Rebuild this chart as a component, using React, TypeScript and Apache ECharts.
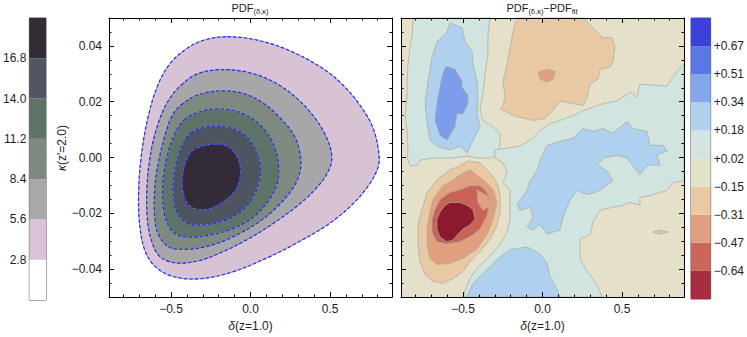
import React, { useEffect, useRef } from "react";
import * as echarts from "echarts";

const FONT = "'Liberation Sans', Arial, Helvetica, sans-serif";
const TXT = "#1e1e1e";

// axis ranges
const X_MIN = -0.89;
const X_MAX = 0.89;
const Y_MIN = -0.05;
const Y_MAX = 0.05;

// tick labels
const xTickValues = [-0.5, 0, 0.5];
const xTickLabels = ["−0.5", "0.0", "0.5"];
const yTickValues = [-0.04, -0.02, 0, 0.02, 0.04];
const yTickLabels = ["−0.04", "−0.02", "0.00", "0.02", "0.04"];

// colour bars
const pdfLevelLabels = ["2.8", "5.6", "8.4", "11.2", "14.0", "16.8"];
const pdfBandColors = ["#ffffff", "#d8c4d6", "#a8a8a8", "#7e8a80", "#5e7367", "#50555f", "#332d38"];
const resLevelLabels = ["−0.64", "−0.47", "−0.31", "−0.15", "+0.02", "+0.18", "+0.34", "+0.51", "+0.67"];
const resBandColors = ["#a62e3e", "#cb665b", "#e09f7f", "#e9c9a3", "#e4e1c9", "#d2e5e0", "#b0d1ee", "#82a7ea", "#5a78e3", "#3b40d8"];

// ---------- left panel: PDF(δ,κ) iso-contours [δ, κ] ----------
const contour28 = [
  [-0.146, 0.0433], [0.042, 0.0421], [0.25, 0.0382], [0.458, 0.0318], [0.583, 0.0259], [0.688, 0.0188],
  [0.771, 0.0106], [0.808, 0.0012], [0.802, -0.0035], [0.75, -0.0094], [0.646, -0.0165], [0.5, -0.0235],
  [0.292, -0.0306], [0.083, -0.0365], [-0.125, -0.0412], [-0.333, -0.0435], [-0.5, -0.0424], [-0.604, -0.0388],
  [-0.667, -0.0329], [-0.698, -0.0235], [-0.704, -0.0129], [-0.688, 0], [-0.646, 0.0141], [-0.583, 0.0259],
  [-0.5, 0.0341], [-0.375, 0.04], [-0.271, 0.0424],
];
const contour56 = [
  [-0.4375, 0.0259], [-0.333, 0.03], [-0.1875, 0.0315], [-0.021, 0.0306], [0.146, 0.0271], [0.292, 0.0212],
  [0.406, 0.0141], [0.479, 0.0071], [0.51, 0.0012], [0.5, -0.0035], [0.4375, -0.0094], [0.3125, -0.0165],
  [0.146, -0.0235], [-0.021, -0.0294], [-0.1875, -0.0341], [-0.333, -0.0371], [-0.479, -0.0377], [-0.573, -0.0353],
  [-0.625, -0.0294], [-0.65, -0.0212], [-0.65, -0.0094], [-0.625, 0.0024], [-0.583, 0.0118], [-0.521, 0.02],
];
const contour84 = [
  [-0.4375, 0.0188], [-0.333, 0.0224], [-0.1875, 0.0239], [-0.042, 0.0229], [0.083, 0.0194], [0.1875, 0.0141],
  [0.271, 0.0082], [0.3125, 0.0012], [0.3125, -0.0047], [0.271, -0.0106], [0.167, -0.0177], [0.042, -0.0235],
  [-0.125, -0.0288], [-0.271, -0.0318], [-0.417, -0.0329], [-0.521, -0.0318], [-0.583, -0.0271], [-0.604, -0.02],
  [-0.6, -0.0094], [-0.573, 0], [-0.531, 0.0094], [-0.49, 0.0153],
];
const contour112 = [
  [-0.417, 0.0135], [-0.3125, 0.0165], [-0.198, 0.0174], [-0.083, 0.0165], [0.021, 0.0135], [0.104, 0.0088],
  [0.156, 0.0029], [0.177, -0.0035], [0.167, -0.0094], [0.115, -0.0153], [0.021, -0.0212], [-0.104, -0.0253],
  [-0.25, -0.0277], [-0.385, -0.0285], [-0.479, -0.0271], [-0.531, -0.0224], [-0.552, -0.0153], [-0.548, -0.0071],
  [-0.521, 0.0012], [-0.479, 0.0082],
];
const contour140 = [
  [-0.375, 0.0088], [-0.292, 0.0108], [-0.208, 0.0112], [-0.115, 0.0104], [-0.031, 0.0077], [0.031, 0.0029],
  [0.0625, -0.0029], [0.052, -0.0088], [0.01, -0.0147], [-0.0625, -0.0194], [-0.167, -0.0226], [-0.292, -0.0241],
  [-0.396, -0.0235], [-0.458, -0.02], [-0.485, -0.0141], [-0.483, -0.0071], [-0.458, 0], [-0.427, 0.0047],
];
const contour168 = [
  [-0.354, 0.0029], [-0.25, 0.0047], [-0.146, 0.0041], [-0.083, 0], [-0.0625, -0.0047], [-0.083, -0.0106],
  [-0.146, -0.0147], [-0.25, -0.0182], [-0.333, -0.0186], [-0.396, -0.0165], [-0.427, -0.0118], [-0.427, -0.0059],
  [-0.396, 0],
];
const pdfContours = [contour28, contour56, contour84, contour112, contour140, contour168];
const pdfFills = ["#d7c3d4", "#a7a6a8", "#7e8a80", "#5f7468", "#4f5560", "#332c38"];

// ---------- right panel: residual regions [δ, κ] ----------
const resCyanLeft = [
  [-0.814, 0.05], [-0.33, 0.05], [-0.343, 0.044], [-0.343, 0.0369], [-0.362, 0.0299], [-0.374, 0.0239],
  [-0.393, 0.0168], [-0.374, 0.0133], [-0.311, 0.0111], [-0.267, 0.0087], [-0.267, 0.0044], [-0.286, 0.0016],
  [-0.33, -0.0002], [-0.393, -0.0002], [-0.475, 0.0005], [-0.582, -0.0002], [-0.689, -0.0002], [-0.77, -0.0009],
  [-0.79, -0.003], [-0.833, -0.0027], [-0.852, -0.0002], [-0.846, 0.0041], [-0.852, 0.0097], [-0.865, 0.0157],
  [-0.852, 0.0217], [-0.852, 0.0274], [-0.846, 0.0334], [-0.833, 0.0394], [-0.821, 0.044],
];
const resCyanBand = [
  [-0.299, 0.0027], [-0.142, 0.0041], [-0.06, 0.0069], [-0.016, 0.0097], [0.047, 0.0122], [0.11, 0.0133],
  [0.217, 0.0157], [0.255, 0.0168], [0.381, 0.0193], [0.469, 0.0203], [0.55, 0.0235], [0.594, 0.0217],
  [0.613, 0.0263], [0.783, 0.0256], [0.846, 0.0309], [0.89, 0.0334], [0.89, -0.0083], [0.821, -0.009],
  [0.783, -0.0118], [0.676, -0.0136], [0.613, -0.0143], [0.613, -0.0171], [0.55, -0.0161], [0.506, -0.0171],
  [0.443, -0.0178], [0.362, -0.0189], [0.318, -0.0231], [0.299, -0.0277], [0.236, -0.0292], [0.236, -0.0362],
  [0.28, -0.0408], [0.343, -0.0454], [0.374, -0.05], [-0.5, -0.05], [-0.487, -0.0479], [-0.456, -0.0433],
  [-0.412, -0.0398], [-0.349, -0.0362], [-0.267, -0.0313], [-0.223, -0.0267], [-0.204, -0.0221], [-0.204, -0.0115],
  [-0.248, -0.009], [-0.223, -0.0055], [-0.248, -0.0019], [-0.299, -0.0002],
];
const resBlueLeft = [
  [-0.582, 0.0482], [-0.506, 0.0465], [-0.487, 0.0415], [-0.443, 0.038], [-0.437, 0.0334], [-0.412, 0.0274],
  [-0.406, 0.0217], [-0.412, 0.0157], [-0.393, 0.0111], [-0.437, 0.0062], [-0.475, 0.0016], [-0.519, 0.0041],
  [-0.582, 0.0027], [-0.664, 0.0041], [-0.708, 0.0062], [-0.726, 0.0122], [-0.739, 0.0193], [-0.72, 0.0274],
  [-0.695, 0.0359], [-0.664, 0.0415], [-0.601, 0.0447], [-0.588, 0.0475],
];
const resBlueCore = [
  [-0.601, 0.0327], [-0.55, 0.0316], [-0.506, 0.0274], [-0.506, 0.0253], [-0.469, 0.0221], [-0.469, 0.0193],
  [-0.5, 0.0157], [-0.538, 0.0157], [-0.55, 0.0111], [-0.601, 0.0062], [-0.645, 0.008], [-0.676, 0.0133],
  [-0.664, 0.0193], [-0.645, 0.0253], [-0.632, 0.0288], [-0.613, 0.0323],
];
const resBlueCentre = [
  [0.028, 0.0044], [-0.016, -0.0012], [-0.035, -0.0048], [-0.079, -0.0083], [-0.097, -0.0118], [-0.16, -0.0168],
  [-0.142, -0.0189], [-0.079, -0.0178], [-0.06, -0.0214], [-0.097, -0.0249], [-0.06, -0.026], [-0.016, -0.0239],
  [0.028, -0.0274], [0.11, -0.026], [0.129, -0.0214], [0.173, -0.0154], [0.217, -0.0118], [0.28, -0.0133],
  [0.362, -0.0118], [0.443, -0.0083], [0.406, -0.0048], [0.343, -0.0027], [0.381, -0.0002], [0.469, 0.0009],
  [0.531, -0.0002], [0.613, -0.0062], [0.657, -0.0027], [0.739, -0.0027], [0.72, 0.0009], [0.783, 0.0023],
  [0.758, 0.0044], [0.676, 0.0044], [0.657, 0.0094], [0.569, 0.0104], [0.531, 0.0129], [0.443, 0.0087],
  [0.381, 0.0104], [0.318, 0.0094], [0.255, 0.0104], [0.192, 0.0069], [0.11, 0.0058],
];
const resBlueBottom = [
  [-0.475, -0.05], [-0.437, -0.0451], [-0.349, -0.0401], [-0.267, -0.0355], [-0.204, -0.033], [-0.097, -0.032],
  [-0.016, -0.0345], [0.028, -0.038], [0.047, -0.0426], [0.091, -0.0472], [0.11, -0.05],
];
const resTanTop = [
  [-0.16, 0.05], [0.255, 0.05], [0.318, 0.0465], [0.381, 0.0429], [0.437, 0.0429], [0.456, 0.0394],
  [0.443, 0.0345], [0.425, 0.0323], [0.362, 0.0316], [0.349, 0.0281], [0.299, 0.0263], [0.28, 0.0217],
  [0.255, 0.0186], [0.11, 0.0203], [0.047, 0.0157], [0.016, 0.014], [-0.06, 0.0133], [-0.16, 0.0147],
  [-0.204, 0.0157], [-0.267, 0.0175], [-0.248, 0.0186], [-0.236, 0.0217], [-0.248, 0.0274], [-0.223, 0.0334],
  [-0.204, 0.0394], [-0.186, 0.0451],
];
const resSalmonTop = [
  [-0.028, 0.0306], [0.028, 0.0316], [0.079, 0.0309], [0.066, 0.0281], [0.028, 0.027], [-0.016, 0.0281],
];
const resTanRing = [
  [-0.469, -0.0012], [-0.393, -0.0019], [-0.33, -0.0055], [-0.286, -0.009], [-0.267, -0.0136], [-0.267, -0.0196],
  [-0.286, -0.0242], [-0.33, -0.0292], [-0.393, -0.0337], [-0.456, -0.0373], [-0.5, -0.0408], [-0.563, -0.0433],
  [-0.626, -0.0451], [-0.689, -0.0443], [-0.739, -0.0419], [-0.77, -0.0373], [-0.783, -0.0313], [-0.783, -0.0242],
  [-0.758, -0.0186], [-0.726, -0.0125], [-0.664, -0.008], [-0.582, -0.0044], [-0.519, -0.003],
];
const resSalmonRing = [
  [-0.456, -0.0044], [-0.374, -0.008], [-0.311, -0.0115], [-0.286, -0.0161], [-0.311, -0.0221], [-0.349, -0.0277],
  [-0.412, -0.0327], [-0.5, -0.0362], [-0.582, -0.038], [-0.664, -0.0383], [-0.708, -0.0362], [-0.726, -0.0313],
  [-0.726, -0.0256], [-0.708, -0.0196], [-0.689, -0.015], [-0.626, -0.0101], [-0.563, -0.008], [-0.5, -0.0055],
];
const resRedRing = [
  [-0.456, -0.0101], [-0.393, -0.0101], [-0.349, -0.0125], [-0.33, -0.0161], [-0.349, -0.0207], [-0.393, -0.0256],
  [-0.437, -0.0277], [-0.519, -0.0302], [-0.601, -0.0309], [-0.664, -0.0302], [-0.695, -0.0267], [-0.695, -0.0221],
  [-0.676, -0.0186], [-0.645, -0.015], [-0.582, -0.0125], [-0.519, -0.0115],
];
const resSalmonIsland = [
  [-0.412, -0.0115], [-0.349, -0.0136], [-0.318, -0.0171], [-0.374, -0.0189], [-0.406, -0.0161],
];
const resDarkCore = [
  [-0.582, -0.0161], [-0.519, -0.0161], [-0.475, -0.0171], [-0.437, -0.0186], [-0.425, -0.0221], [-0.456, -0.0242],
  [-0.5, -0.0256], [-0.531, -0.0274], [-0.563, -0.0295], [-0.601, -0.0302], [-0.645, -0.0284], [-0.664, -0.0256],
  [-0.664, -0.0221], [-0.645, -0.0196], [-0.613, -0.0171],
];
const resTanSpeck = [[0.695, -0.0267], [0.739, -0.026], [0.789, -0.0267], [0.739, -0.0274]];

const resRegions = [
  resCyanLeft, resCyanBand, resBlueLeft, resBlueCore, resBlueCentre, resBlueBottom, resTanTop, resSalmonTop,
  resTanRing, resSalmonRing, resRedRing, resSalmonIsland, resDarkCore, resTanSpeck,
];
const resFills = [
  "#d2e4df", "#d2e4df", "#afd0ee", "#7b9dec", "#afd0ee", "#afd0ee", "#e8c9a4", "#e0a080",
  "#e8c9a4", "#e0a080", "#c96358", "#e0a080", "#8b1a2c", "#e8c9a4",
];

const pick = (values: number[], labels: string[]) => (v: number) => {
  const i = values.findIndex((t) => Math.abs(t - v) < 1e-9);
  return i >= 0 ? labels[i] : "";
};
const barLabel = (labels: string[]) => (v: number) => {
  const i = Math.round(v);
  if (Math.abs(v - i) > 1e-9 || i < 1 || i > labels.length) return "";
  return labels[i - 1];
};

const labelStyle = { fontFamily: FONT, fontSize: 12, color: TXT };

function panelX(gridIndex: number, position: string, labels: boolean) {
  return {
    type: "value", gridIndex, position, min: X_MIN, max: X_MAX, splitNumber: 4, z: 10,
    axisLine: { show: true, onZero: false, lineStyle: { color: "#000", width: 1 } },
    axisTick: { show: true, inside: true, length: 5, lineStyle: { color: "#000", width: 1 } },
    minorTick: { show: true, splitNumber: 5, length: 2.5, lineStyle: { color: "#000", width: 1 } },
    splitLine: { show: false },
    axisLabel: { show: labels, margin: 6, ...labelStyle, formatter: pick(xTickValues, xTickLabels) },
    name: labels ? "{i|δ}(z=1.0)" : "",
    nameLocation: "middle", nameGap: 27,
    nameTextStyle: { ...labelStyle, verticalAlign: "middle", rich: { i: { ...labelStyle, fontStyle: "italic" } } },
  };
}
function panelY(gridIndex: number, position: string, labels: boolean) {
  return {
    type: "value", gridIndex, position, min: Y_MIN, max: Y_MAX, splitNumber: 5, z: 10,
    axisLine: { show: true, onZero: false, lineStyle: { color: "#000", width: 1 } },
    axisTick: { show: true, inside: true, length: 5, lineStyle: { color: "#000", width: 1 } },
    minorTick: { show: true, splitNumber: 4, length: 2.5, lineStyle: { color: "#000", width: 1 } },
    splitLine: { show: false },
    axisLabel: { show: labels, margin: 7, ...labelStyle, formatter: pick(yTickValues, yTickLabels) },
  };
}

function polySeries(xi: number, yi: number, polys: number[][][], fills: string[], stroke: string, smooth: number) {
  return {
    type: "custom", xAxisIndex: xi, yAxisIndex: yi, silent: true, z: 2,
    data: polys.map((p) => p[0]),
    renderItem: (params: any, api: any) => {
      const pts = polys[params.dataIndex].map((p) => api.coord(p));
      return {
        type: "polygon",
        shape: { points: pts, smooth },
        style: { fill: fills[params.dataIndex], stroke, lineWidth: 0.7 },
      };
    },
  };
}

function dashSeries(xi: number, yi: number, polys: number[][][]) {
  return {
    type: "custom", xAxisIndex: xi, yAxisIndex: yi, silent: true, z: 3,
    data: polys.map((p) => p[0]),
    renderItem: (params: any, api: any) => {
      const pts = polys[params.dataIndex].map((p) => api.coord(p));
      return {
        type: "polygon",
        shape: { points: pts, smooth: 0.35 },
        style: { fill: "none", stroke: "#1f2ff5", lineWidth: 1.2, lineDash: [3.5, 2] },
      };
    },
  };
}

function barSeries(xi: number, yi: number, colors: string[]) {
  return {
    type: "custom", xAxisIndex: xi, yAxisIndex: yi, silent: true,
    data: colors.map((_, i) => [0.5, i + 0.5]),
    renderItem: (params: any, api: any) => {
      const i = params.dataIndex;
      const a = api.coord([0, i]);
      const b = api.coord([1, i + 1]);
      return {
        type: "rect",
        shape: { x: a[0], y: b[1], width: b[0] - a[0], height: a[1] - b[1] },
        style: { fill: colors[i], stroke: "none" },
      };
    },
  };
}

function barY(gridIndex: number, position: string, n: number, labels: string[], margin: number) {
  return {
    type: "value", gridIndex, position, min: 0, max: n, interval: 1,
    axisLine: { show: false }, axisTick: { show: false }, splitLine: { show: false },
    axisLabel: { show: true, margin, ...labelStyle, formatter: barLabel(labels) },
  };
}
function barX(gridIndex: number) {
  return { type: "value", gridIndex, min: 0, max: 1, show: false };
}

export default function App() {
  const ref = useRef<HTMLDivElement>(null);
  useEffect(() => {
    if (!ref.current) return;
    const chart = echarts.init(ref.current, undefined, { renderer: "svg" });
    const subRich = {
      s: { fontFamily: FONT, fontSize: 7.5, lineHeight: 8, verticalAlign: "bottom", color: TXT },
    };
    chart.setOption({
      animation: false,
      backgroundColor: "#ffffff",
      title: [
        {
          text: "PDF{s|(δ,κ)}", left: 250, top: 1, textAlign: "center", padding: 0,
          textStyle: { fontFamily: FONT, fontSize: 11, fontWeight: "normal", color: TXT, lineHeight: 14, rich: subRich },
        },
        {
          text: "PDF{s|(δ,κ)}−PDF{s|fit}", left: 542, top: 1, textAlign: "center", padding: 0,
          textStyle: { fontFamily: FONT, fontSize: 11, fontWeight: "normal", color: TXT, lineHeight: 14, rich: subRich },
        },
      ],
      grid: [
        { left: 109, top: 18, width: 283, height: 283, containLabel: false },
        { left: 401, top: 18, width: 283, height: 283, containLabel: false, show: true, backgroundColor: "#e4e0c9", borderWidth: 0 },
        { left: 27, top: 18, width: 19, height: 282, containLabel: false, show: true, borderColor: "#555", borderWidth: 1, backgroundColor: "transparent" },
        { left: 691, top: 18, width: 20, height: 281, containLabel: false, show: true, borderColor: "#555", borderWidth: 1, backgroundColor: "transparent" },
      ],
      xAxis: [
        panelX(0, "bottom", true), panelX(0, "top", false),
        panelX(1, "bottom", true), panelX(1, "top", false),
        barX(2), barX(3),
      ],
      yAxis: [
        panelY(0, "left", true), panelY(0, "right", false),
        panelY(1, "left", false), panelY(1, "right", false),
        barY(2, "left", pdfBandColors.length, pdfLevelLabels, 3),
        barY(3, "right", resBandColors.length, resLevelLabels, 3),
      ],
      graphic: [
        {
          type: "text", x: 62, y: 148, rotation: Math.PI / 2,
          style: {
            text: "{i|κ}(z'=2.0)", fontFamily: FONT, fontSize: 12, fill: TXT,
            align: "center", verticalAlign: "middle",
            rich: { i: { fontFamily: FONT, fontSize: 12, fontStyle: "italic", color: TXT } },
          },
        },
      ],
      series: [
        polySeries(0, 0, pdfContours, pdfFills, "#9a9a9a", 0.35),
        dashSeries(0, 0, pdfContours),
        polySeries(2, 2, resRegions, resFills, "#a9a89f", 0),
        barSeries(4, 4, pdfBandColors),
        barSeries(5, 5, resBandColors),
      ],
    });
    return () => chart.dispose();
  }, []);
  return (
    <div
      ref={ref}
      style={{ position: "fixed", left: 0, top: 0, width: 747, height: 337, background: "#fff" }}
    />
  );
}
